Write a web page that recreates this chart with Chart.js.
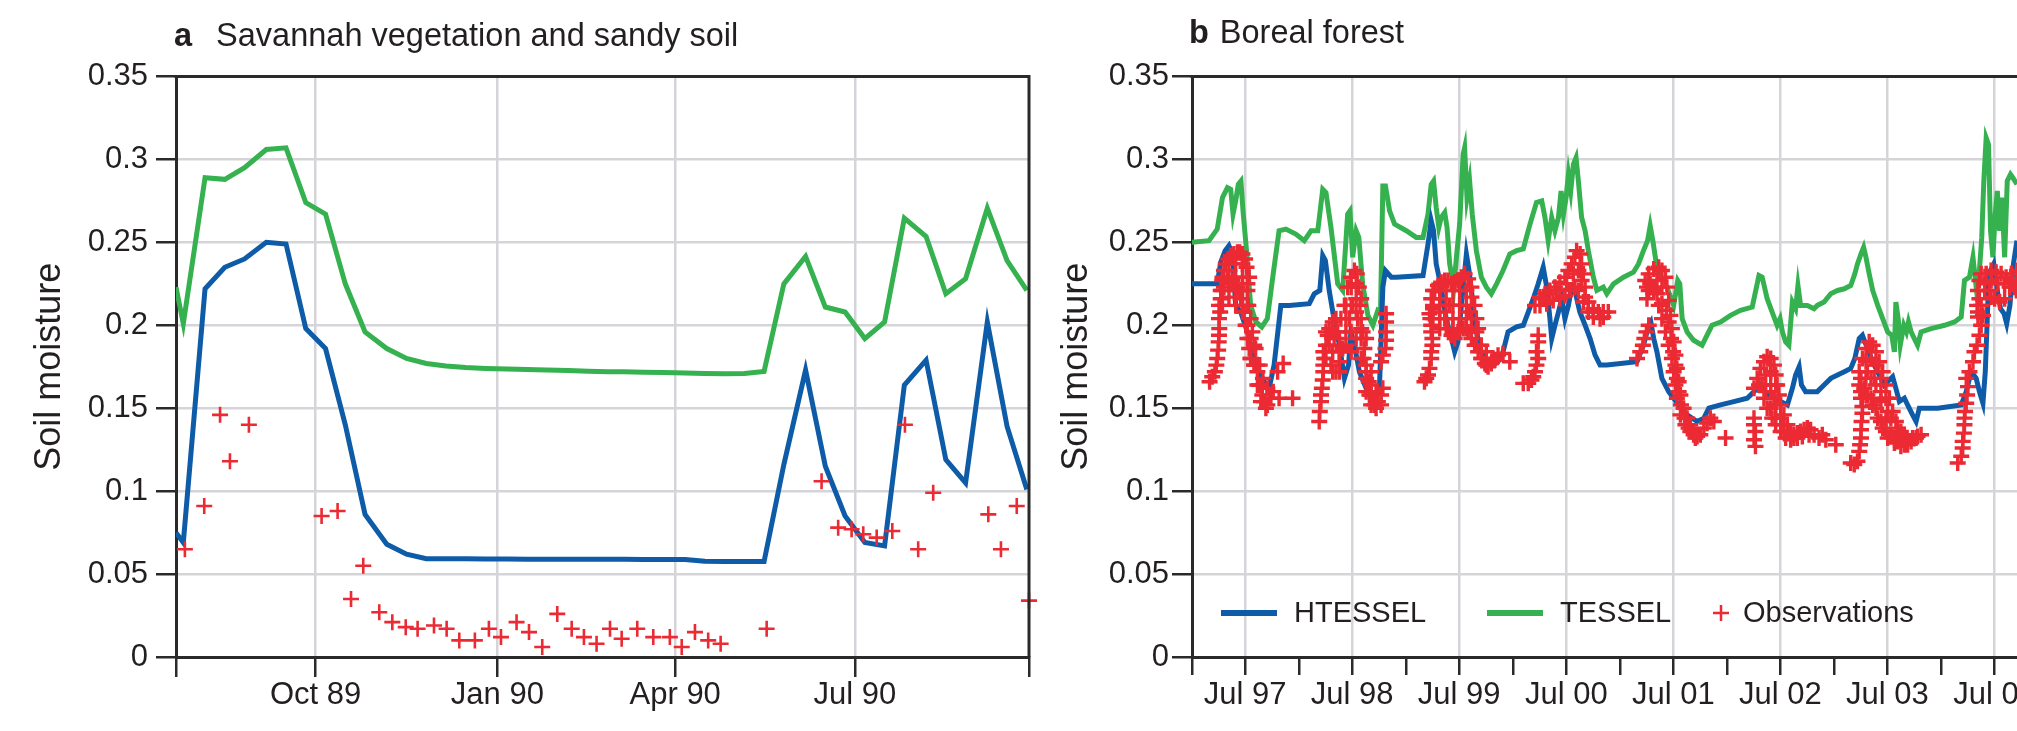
<!DOCTYPE html>
<html>
<head>
<meta charset="utf-8">
<title>Soil moisture: HTESSEL, TESSEL and observations</title>
<script src="https://cdn.jsdelivr.net/npm/chart.js@4.4.1/dist/chart.umd.min.js"></script>
<style>
  html, body { margin: 0; padding: 0; background: #fff; }
  body { width: 2017px; height: 731px; overflow: hidden; position: relative;
         font-family: "Liberation Sans", Arial, sans-serif; color: #231f20; }
  canvas { position: absolute; top: 0; }
  .title { position: absolute; top: 19px; font-size: 32.5px; line-height: 32px; white-space: nowrap; z-index: 2; }
</style>
</head>
<body>
<canvas id="savannah" width="1050" height="731" style="left:0"></canvas>
<canvas id="boreal" width="1020" height="731" style="left:1040px"></canvas>
<div class="title" style="left:174px"><b>a</b><span style="margin-left:24px">Savannah vegetation and sandy soil</span></div>
<div class="title" style="left:1189px;top:16px"><b>b</b><span style="margin-left:11px">Boreal forest</span></div>
<script>
// ---------- panel a : savannah, x = days since 1 Jul 1989 ----------
var savAxis = [21.3, 453.1];
var savTickDates = [[1989, 9, 1], [1990, 0, 1], [1990, 3, 1], [1990, 6, 1]];
var savTickLabels = ['Oct 89', 'Jan 90', 'Apr 90', 'Jul 90'];

// dekadal model output: value at the axis start, then 3rd dekad Jul 89 .. 3rd dekad Sep 90
var savHtessel = [0.075, 0.069, 0.222, 0.235, 0.240, 0.250, 0.249, 0.198, 0.186, 0.140,
  0.086, 0.068, 0.062, 0.0593,
  0.0592, 0.0592, 0.0591, 0.0591, 0.0590, 0.0590, 0.0590, 0.0589, 0.0589, 0.0589, 0.0588, 0.0588, 0.0588,
  0.0577, 0.0576, 0.0576, 0.0576,
  0.116, 0.173, 0.115, 0.085, 0.069, 0.067, 0.164, 0.179, 0.119, 0.105, 0.202, 0.139, 0.101];
var savTessel = [0.223, 0.201, 0.289, 0.288, 0.295, 0.306, 0.307, 0.274, 0.267, 0.225,
  0.196, 0.186, 0.180, 0.177,
  0.1755, 0.1745, 0.174, 0.1737, 0.1733, 0.173, 0.1727, 0.1723, 0.172, 0.172, 0.1717, 0.1715, 0.1712,
  0.171, 0.1708, 0.171, 0.1722,
  0.225, 0.2415, 0.211, 0.208, 0.192, 0.202, 0.2646, 0.2535, 0.219, 0.228, 0.2706, 0.239, 0.221];
var savObs = [[25.8, 0.065], [35.6, 0.091], [43.6, 0.146], [48.6, 0.118], [58.2, 0.140],
  [95.0, 0.085], [103.1, 0.088], [109.9, 0.035], [116.1, 0.055], [124.2, 0.027], [130.8, 0.021],
  [137.6, 0.018], [143.6, 0.017], [151.9, 0.019], [158.3, 0.017], [164.7, 0.010], [172.6, 0.010],
  [179.7, 0.017], [185.8, 0.012], [193.7, 0.021], [200.0, 0.015], [206.7, 0.006], [214.3, 0.026],
  [221.6, 0.017], [227.8, 0.012], [234.2, 0.008], [241.0, 0.017], [246.9, 0.011], [254.8, 0.017],
  [262.9, 0.012], [271.3, 0.012], [277.3, 0.006], [284.0, 0.015], [290.7, 0.010], [297.0, 0.008],
  [320.3, 0.017], [348.1, 0.106], [356.5, 0.078], [363.3, 0.077], [369.2, 0.074], [376.0, 0.072],
  [383.9, 0.076], [390.3, 0.140], [397.0, 0.065], [404.6, 0.099], [432.5, 0.086], [438.9, 0.065],
  [446.9, 0.091], [453.1, 0.034]];

// ---------- panel b : boreal forest, x = days since 1 Jan 1997 ----------
var borealAxis = [0, 2922];
var borealTickLabels = ['Jul 97', 'Jul 98', 'Jul 99', 'Jul 00', 'Jul 01', 'Jul 02', 'Jul 03', 'Jul 04'];

var borealHtessel = [[-8, 0.225], [86, 0.225], [98, 0.238], [113, 0.245], [126, 0.248], [138, 0.243],
  [149, 0.212], [166, 0.208], [189, 0.196], [218, 0.176], [246, 0.166], [263, 0.162], [280, 0.176],
  [303, 0.212], [332, 0.212], [400, 0.213], [417, 0.219], [436, 0.221], [446, 0.242], [455, 0.239],
  [468, 0.221], [486, 0.202], [503, 0.188], [520, 0.168], [534, 0.176], [542, 0.196], [554, 0.188],
  [571, 0.172], [594, 0.162], [617, 0.158], [639, 0.160], [651, 0.223], [660, 0.233], [680, 0.229],
  [697, 0.229], [788, 0.230], [805, 0.249], [816, 0.263], [824, 0.257], [833, 0.237], [850, 0.223],
  [867, 0.204], [885, 0.192], [896, 0.184], [907, 0.190], [924, 0.221], [936, 0.243], [945, 0.233],
  [959, 0.212], [970, 0.196], [987, 0.184], [1004, 0.178], [1027, 0.176], [1044, 0.178], [1061, 0.184],
  [1078, 0.196], [1107, 0.199], [1130, 0.200], [1147, 0.208], [1164, 0.216], [1181, 0.225], [1198, 0.235],
  [1210, 0.223], [1221, 0.204], [1227, 0.192], [1238, 0.200], [1250, 0.208], [1261, 0.216], [1272, 0.204],
  [1284, 0.212], [1295, 0.223], [1306, 0.221], [1323, 0.208], [1341, 0.200], [1358, 0.192], [1375, 0.182],
  [1392, 0.176], [1415, 0.176], [1518, 0.178], [1540, 0.188], [1558, 0.200], [1565, 0.202], [1575, 0.192],
  [1586, 0.184], [1603, 0.168], [1626, 0.160], [1643, 0.156], [1660, 0.152], [1689, 0.146], [1723, 0.142],
  [1746, 0.144], [1763, 0.150], [1803, 0.152], [1848, 0.154], [1894, 0.156], [1917, 0.160], [1939, 0.164],
  [1962, 0.158], [1985, 0.156], [2008, 0.154], [2031, 0.152], [2048, 0.162], [2059, 0.170], [2071, 0.175],
  [2079, 0.164], [2093, 0.160], [2122, 0.160], [2133, 0.160], [2156, 0.164], [2179, 0.168], [2202, 0.170],
  [2225, 0.172], [2247, 0.174], [2261, 0.180], [2276, 0.192], [2287, 0.194], [2304, 0.186], [2327, 0.176],
  [2361, 0.164], [2390, 0.169], [2401, 0.162], [2413, 0.154], [2430, 0.156], [2441, 0.152], [2458, 0.146],
  [2470, 0.142], [2481, 0.150], [2544, 0.150], [2624, 0.152], [2641, 0.160], [2658, 0.172], [2675, 0.168],
  [2686, 0.160], [2698, 0.153], [2706, 0.172], [2712, 0.200], [2717, 0.225], [2724, 0.233], [2735, 0.237],
  [2747, 0.221], [2758, 0.210], [2770, 0.207], [2779, 0.201], [2790, 0.212], [2802, 0.237], [2814, 0.251]];

var borealTessel = [[-8, 0.250], [58, 0.251], [86, 0.258], [104, 0.277], [121, 0.283], [132, 0.282],
  [140, 0.267], [149, 0.275], [158, 0.285], [167, 0.287], [174, 0.269], [186, 0.245], [200, 0.212],
  [218, 0.202], [238, 0.199], [257, 0.204], [277, 0.231], [297, 0.257], [320, 0.258], [354, 0.255],
  [383, 0.251], [406, 0.257], [429, 0.257], [446, 0.282], [457, 0.280], [474, 0.259], [497, 0.225],
  [514, 0.221], [531, 0.267], [539, 0.269], [548, 0.241], [560, 0.257], [569, 0.253], [582, 0.225],
  [600, 0.206], [617, 0.200], [634, 0.209], [643, 0.208], [651, 0.284], [660, 0.284], [674, 0.269],
  [691, 0.261], [731, 0.257], [765, 0.253], [788, 0.253], [805, 0.267], [816, 0.285], [824, 0.287],
  [833, 0.271], [842, 0.259], [850, 0.265], [862, 0.268], [870, 0.259], [879, 0.237], [893, 0.223],
  [902, 0.241], [913, 0.261], [925, 0.303], [930, 0.307], [938, 0.277], [947, 0.287], [956, 0.267],
  [970, 0.245], [987, 0.229], [1004, 0.223], [1021, 0.219], [1039, 0.225], [1061, 0.233], [1084, 0.243],
  [1107, 0.245], [1130, 0.246], [1153, 0.261], [1175, 0.274], [1193, 0.275], [1204, 0.265], [1215, 0.251],
  [1227, 0.265], [1238, 0.257], [1250, 0.265], [1259, 0.281], [1267, 0.267], [1276, 0.277], [1284, 0.291],
  [1292, 0.281], [1301, 0.297], [1310, 0.301], [1318, 0.287], [1329, 0.265], [1341, 0.257], [1352, 0.245],
  [1369, 0.229], [1381, 0.221], [1403, 0.223], [1415, 0.219], [1438, 0.225], [1472, 0.229], [1506, 0.232],
  [1523, 0.237], [1540, 0.245], [1554, 0.251], [1563, 0.260], [1572, 0.251], [1584, 0.237], [1597, 0.229],
  [1620, 0.223], [1643, 0.212], [1657, 0.227], [1664, 0.225], [1672, 0.204], [1689, 0.196], [1711, 0.191],
  [1740, 0.188], [1757, 0.194], [1774, 0.200], [1803, 0.202], [1837, 0.206], [1871, 0.209], [1911, 0.211],
  [1934, 0.230], [1945, 0.229], [1962, 0.216], [1979, 0.208], [1996, 0.200], [2006, 0.204], [2014, 0.196],
  [2025, 0.190], [2036, 0.188], [2048, 0.214], [2059, 0.210], [2067, 0.224], [2076, 0.212], [2099, 0.212],
  [2122, 0.210], [2133, 0.212], [2156, 0.214], [2179, 0.219], [2202, 0.221], [2225, 0.222], [2247, 0.224],
  [2261, 0.231], [2270, 0.237], [2282, 0.243], [2291, 0.247], [2299, 0.241], [2310, 0.231], [2322, 0.221],
  [2339, 0.212], [2356, 0.204], [2373, 0.196], [2387, 0.194], [2396, 0.184], [2401, 0.214], [2409, 0.204],
  [2416, 0.188], [2428, 0.200], [2437, 0.196], [2444, 0.202], [2453, 0.196], [2464, 0.192], [2475, 0.188],
  [2487, 0.196], [2521, 0.198], [2567, 0.200], [2601, 0.202], [2624, 0.205], [2635, 0.227], [2652, 0.229],
  [2664, 0.241], [2675, 0.223], [2686, 0.233], [2694, 0.253], [2701, 0.287], [2709, 0.313], [2717, 0.309],
  [2724, 0.257], [2732, 0.241], [2740, 0.267], [2747, 0.281], [2755, 0.257], [2763, 0.277], [2772, 0.241],
  [2781, 0.287], [2792, 0.291], [2800, 0.289], [2814, 0.285]];

var borealObs = [
  // 1997
  [60, 0.166], [69, 0.169], [78, 0.172], [83, 0.176], [86, 0.180], [89, 0.185], [91, 0.190], [92, 0.194],
  [93, 0.198], [92, 0.204], [96, 0.208], [92, 0.212], [98, 0.221], [103, 0.227], [109, 0.233], [115, 0.237],
  [124, 0.240], [132, 0.242], [143, 0.243], [155, 0.244], [163, 0.244], [172, 0.243], [181, 0.240], [186, 0.235],
  [98, 0.216], [109, 0.223], [121, 0.229], [138, 0.227], [155, 0.223], [160, 0.221], [166, 0.216], [172, 0.212],
  [178, 0.208], [195, 0.229], [189, 0.221], [192, 0.212], [183, 0.200], [189, 0.192], [195, 0.186], [200, 0.180],
  [212, 0.176], [223, 0.172], [229, 0.164], [240, 0.158], [246, 0.154], [252, 0.150], [257, 0.152], [269, 0.156],
  [277, 0.160], [206, 0.196], [217, 0.186], [231, 0.176], [242, 0.168], [257, 0.162], [292, 0.172], [311, 0.177],
  [297, 0.156], [343, 0.156],
  [104, 0.229], [104, 0.221], [104, 0.212], [126, 0.233], [126, 0.225], [126, 0.217], [149, 0.237], [149, 0.229],
  [149, 0.221], [149, 0.212], [172, 0.237], [172, 0.229], [172, 0.221], [172, 0.208], [189, 0.225], [189, 0.212],
  [189, 0.200], [200, 0.204], [200, 0.192], [200, 0.180], [212, 0.188], [212, 0.176], [223, 0.176], [223, 0.164],
  [235, 0.164], [235, 0.154],
  // 1998
  [434, 0.142], [436, 0.148], [440, 0.154], [440, 0.158], [443, 0.162], [446, 0.167], [448, 0.172], [448, 0.176],
  [451, 0.180], [448, 0.184], [457, 0.188], [463, 0.194], [468, 0.198], [480, 0.202], [491, 0.204], [508, 0.204],
  [520, 0.212], [531, 0.223], [542, 0.229], [554, 0.233], [562, 0.231], [569, 0.223], [573, 0.212], [577, 0.204],
  [582, 0.196], [588, 0.186], [594, 0.176], [603, 0.166], [611, 0.158], [622, 0.152], [634, 0.154], [645, 0.158],
  [651, 0.162], [457, 0.180], [474, 0.176], [491, 0.172], [502, 0.178], [514, 0.186], [525, 0.196], [537, 0.204],
  [548, 0.212], [560, 0.216], [565, 0.204], [577, 0.192], [585, 0.180], [594, 0.168], [605, 0.158], [468, 0.188],
  [485, 0.192], [497, 0.196], [662, 0.207], [662, 0.202], [662, 0.196], [662, 0.191], [660, 0.186], [651, 0.182],
  [645, 0.178],
  [457, 0.196], [480, 0.196], [480, 0.184], [480, 0.172], [503, 0.192], [503, 0.184], [503, 0.172], [525, 0.212],
  [525, 0.204], [525, 0.188], [543, 0.223], [543, 0.212], [543, 0.196], [543, 0.184], [560, 0.225], [560, 0.208],
  [560, 0.192], [577, 0.216], [577, 0.198], [577, 0.180], [594, 0.192], [594, 0.172], [594, 0.160], [611, 0.172],
  [611, 0.164], [611, 0.152], [628, 0.160], [628, 0.150], [645, 0.152],
  // 1999
  [793, 0.166], [799, 0.168], [805, 0.170], [810, 0.174], [816, 0.180], [816, 0.184], [820, 0.188], [820, 0.192],
  [816, 0.196], [816, 0.200], [813, 0.204], [810, 0.207], [816, 0.216], [828, 0.221], [839, 0.224], [850, 0.226],
  [862, 0.227], [873, 0.227], [885, 0.225], [896, 0.226], [907, 0.227], [919, 0.229], [930, 0.231], [942, 0.228],
  [953, 0.223], [964, 0.212], [970, 0.204], [976, 0.198], [822, 0.210], [845, 0.208], [862, 0.204], [873, 0.198],
  [885, 0.194], [896, 0.192], [907, 0.196], [925, 0.198], [942, 0.196], [953, 0.192], [964, 0.188], [976, 0.184],
  [987, 0.180], [999, 0.177], [1010, 0.175], [1021, 0.177], [1033, 0.179], [1044, 0.182], [1061, 0.183],
  [1084, 0.178], [845, 0.216], [879, 0.212], [913, 0.212], [947, 0.208],
  [822, 0.221], [822, 0.212], [822, 0.204], [845, 0.221], [845, 0.212], [845, 0.204], [845, 0.198], [867, 0.221],
  [867, 0.212], [867, 0.204], [867, 0.198], [890, 0.221], [890, 0.212], [890, 0.204], [890, 0.198], [913, 0.221],
  [913, 0.212], [913, 0.204], [913, 0.198], [936, 0.221], [936, 0.212], [936, 0.204], [936, 0.198], [953, 0.217],
  [953, 0.204], [953, 0.196], [970, 0.196], [970, 0.188], [987, 0.188], [987, 0.180], [1004, 0.184], [1004, 0.176],
  [1027, 0.180],
  // 2000
  [1130, 0.165], [1147, 0.165], [1158, 0.167], [1164, 0.169], [1170, 0.172], [1175, 0.176], [1181, 0.180],
  [1175, 0.184], [1181, 0.190], [1181, 0.194], [1170, 0.212], [1187, 0.217], [1204, 0.219], [1221, 0.221],
  [1238, 0.223], [1255, 0.226], [1272, 0.229], [1284, 0.233], [1295, 0.237], [1306, 0.241], [1312, 0.245],
  [1324, 0.243], [1329, 0.237], [1335, 0.231], [1341, 0.223], [1352, 0.214], [1369, 0.210], [1386, 0.208],
  [1403, 0.208], [1420, 0.208], [1187, 0.212], [1210, 0.213], [1232, 0.215], [1255, 0.216], [1272, 0.218],
  [1289, 0.221], [1306, 0.223], [1318, 0.221], [1335, 0.214], [1352, 0.208], [1369, 0.205], [1392, 0.204],
  [1198, 0.216], [1244, 0.221], [1278, 0.225], [1301, 0.231], [1318, 0.233], [1329, 0.227], [1341, 0.217],
  [1369, 0.208], [1403, 0.205],
  // 2001
  [1518, 0.180], [1529, 0.184], [1538, 0.188], [1543, 0.192], [1550, 0.196], [1558, 0.200], [1552, 0.216],
  [1558, 0.221], [1546, 0.227], [1558, 0.231], [1575, 0.234], [1592, 0.235], [1603, 0.233], [1615, 0.229],
  [1620, 0.223], [1626, 0.215], [1632, 0.206], [1637, 0.198], [1643, 0.190], [1649, 0.182], [1654, 0.174],
  [1660, 0.166], [1666, 0.158], [1677, 0.150], [1689, 0.144], [1700, 0.140], [1711, 0.136], [1723, 0.133],
  [1734, 0.134], [1746, 0.138], [1757, 0.141], [1768, 0.144], [1780, 0.142], [1552, 0.223], [1575, 0.221],
  [1592, 0.212], [1603, 0.204], [1615, 0.196], [1626, 0.188], [1637, 0.180], [1643, 0.172], [1649, 0.164],
  [1654, 0.156], [1666, 0.146], [1683, 0.140], [1700, 0.136], [1717, 0.132], [1820, 0.132],
  [1563, 0.225], [1586, 0.227], [1586, 0.219], [1603, 0.223], [1603, 0.213], [1618, 0.209], [1626, 0.202],
  [1634, 0.192], [1641, 0.184], [1649, 0.176], [1654, 0.168], [1660, 0.160], [1668, 0.152], [1680, 0.144],
  [1694, 0.138], [1711, 0.134],
  // 2002
  [1917, 0.144], [1917, 0.140], [1922, 0.136], [1917, 0.131], [1922, 0.127], [1917, 0.162], [1928, 0.168],
  [1939, 0.174], [1951, 0.178], [1962, 0.181], [1974, 0.180], [1985, 0.176], [1991, 0.170], [1996, 0.164],
  [2002, 0.158], [2008, 0.152], [2019, 0.146], [2031, 0.140], [2042, 0.136], [2053, 0.134], [2065, 0.135],
  [2076, 0.136], [2088, 0.137], [2099, 0.138], [2110, 0.137], [2139, 0.132], [1951, 0.156], [1962, 0.150],
  [1979, 0.144], [1991, 0.140], [2008, 0.136], [2025, 0.132], [2042, 0.131], [2065, 0.132], [1945, 0.164],
  [1974, 0.164], [1985, 0.156], [2150, 0.134], [2162, 0.131], [2196, 0.128],
  [1934, 0.164], [1957, 0.170], [1957, 0.160], [1974, 0.172], [1974, 0.160], [1974, 0.150], [1991, 0.164],
  [1991, 0.152], [1991, 0.144], [2008, 0.144], [2019, 0.140], [2019, 0.136], [2036, 0.135], [2053, 0.132],
  [2082, 0.133], [2105, 0.134], [2122, 0.134],
  // 2003
  [2247, 0.117], [2259, 0.116], [2270, 0.118], [2276, 0.124], [2279, 0.128], [2282, 0.132], [2282, 0.137],
  [2284, 0.142], [2287, 0.147], [2287, 0.151], [2282, 0.156], [2276, 0.172], [2287, 0.180], [2299, 0.186],
  [2310, 0.190], [2322, 0.188], [2333, 0.184], [2344, 0.178], [2356, 0.172], [2367, 0.164], [2379, 0.156],
  [2390, 0.148], [2401, 0.142], [2418, 0.136], [2436, 0.132], [2453, 0.130], [2470, 0.132], [2487, 0.134],
  [2276, 0.164], [2293, 0.162], [2304, 0.158], [2322, 0.152], [2339, 0.144], [2356, 0.138], [2373, 0.132],
  [2396, 0.129], [2418, 0.127], [2441, 0.128], [2304, 0.172], [2327, 0.168], [2350, 0.160], [2373, 0.148],
  [2282, 0.168], [2282, 0.160], [2299, 0.178], [2299, 0.168], [2299, 0.158], [2316, 0.180], [2316, 0.168],
  [2316, 0.156], [2333, 0.176], [2333, 0.164], [2333, 0.150], [2350, 0.168], [2350, 0.154], [2350, 0.142],
  [2367, 0.156], [2367, 0.144], [2367, 0.136], [2384, 0.144], [2384, 0.134], [2407, 0.138], [2407, 0.130],
  [2430, 0.134], [2430, 0.128], [2458, 0.132], [2475, 0.133],
  // 2004
  [2612, 0.117], [2624, 0.121], [2629, 0.126], [2629, 0.130], [2633, 0.135], [2635, 0.140], [2635, 0.144],
  [2637, 0.148], [2641, 0.153], [2644, 0.158], [2647, 0.163], [2641, 0.168], [2652, 0.172], [2664, 0.178],
  [2669, 0.184], [2678, 0.188], [2686, 0.194], [2692, 0.200], [2698, 0.206], [2692, 0.212], [2686, 0.216],
  [2681, 0.221], [2686, 0.227], [2692, 0.231], [2709, 0.231], [2726, 0.233], [2743, 0.232], [2760, 0.231],
  [2777, 0.229], [2795, 0.231], [2814, 0.233], [2704, 0.221], [2721, 0.221], [2738, 0.216], [2755, 0.214],
  [2772, 0.216], [2789, 0.223], [2806, 0.223], [2678, 0.212], [2681, 0.208], [2681, 0.205],
  [2704, 0.225], [2726, 0.227], [2726, 0.217], [2749, 0.225], [2772, 0.225], [2795, 0.227], [2812, 0.227],
  [2812, 0.221]];

// ---------- look ----------
var BLUE = '#0e5ca8', GREEN = '#35b24f', RED = '#ec2a33';
var GRID = '#d5d5d9', AXIS = '#2a2a2a', TEXT = '#231f20';
var SANS = '"Liberation Sans", Arial, sans-serif';

function fontAvailable(name) {
  var c = document.createElement('canvas').getContext('2d');
  var probe = 'Oct 89 HTESSEL Observations';
  c.font = '40px monospace';
  var w0 = c.measureText(probe).width;
  c.font = '40px "' + name + '", monospace';
  return c.measureText(probe).width !== w0;
}
var NARROW = fontAvailable('Liberation Sans Narrow');
var xTickFont = NARROW ? { family: '"Liberation Sans Narrow", ' + SANS, size: 37, lineHeight: 1 }
                       : { family: SANS, size: 31, lineHeight: 1 };
var legendFont = NARROW ? '33px "Liberation Sans Narrow", ' + SANS : '29px ' + SANS;

Chart.defaults.font.family = SANS;
Chart.defaults.color = TEXT;

function dayOf(base, y, m, d) {
  return (Date.UTC(y, m, d) - base) / 864e5;
}
function pairs(list) {
  return list.map(function (p) { return { x: p[0], y: p[1] }; });
}

// frame: top and right edges of the plot box
var framePlugin = {
  id: 'frame',
  afterDraw: function (chart) {
    var a = chart.chartArea, ctx = chart.ctx;
    ctx.save();
    ctx.strokeStyle = AXIS;
    ctx.lineWidth = 3;
    ctx.beginPath();
    ctx.moveTo(a.left - 1.5, a.top);
    ctx.lineTo(a.right, a.top);
    ctx.lineTo(a.right, a.bottom);
    ctx.stroke();
    ctx.restore();
  }
};

// legend drawn inside the plot box
var legendPlugin = {
  id: 'boxLegend',
  afterDatasetsDraw: function (chart, args, opts) {
    if (!opts.items) return;
    var a = chart.chartArea, ctx = chart.ctx;
    var y = a.top + opts.y;
    ctx.save();
    ctx.font = legendFont;
    ctx.textBaseline = 'middle';
    opts.items.forEach(function (it) {
      var ds = chart.data.datasets[it.dataset];
      ctx.strokeStyle = ds.borderColor;
      if (ds.showLine === false) {
        ctx.lineWidth = 2.5;
        ctx.beginPath();
        ctx.moveTo(a.left + it.mark - 8, y); ctx.lineTo(a.left + it.mark + 8, y);
        ctx.moveTo(a.left + it.mark, y - 8); ctx.lineTo(a.left + it.mark, y + 8);
        ctx.stroke();
      } else {
        ctx.lineWidth = 6;
        ctx.beginPath();
        ctx.moveTo(a.left + it.mark, y); ctx.lineTo(a.left + it.mark + 56, y);
        ctx.stroke();
      }
      ctx.fillStyle = TEXT;
      ctx.fillText(ds.label, a.left + it.text, y + 1);
    });
    ctx.restore();
  }
};

function makeChart(id, o) {
  var tickMap = {};
  o.ticks.forEach(function (t) { tickMap[t.value] = t.label; });
  var labelPad = 695 - 657 - o.tickLen - xTickFont.size / 2;

  return new Chart(document.getElementById(id), {
    type: 'line',
    data: {
      datasets: [
        { label: 'HTESSEL', data: o.htessel, borderColor: BLUE, borderWidth: 5,
          pointRadius: 0, tension: 0, order: 1 },
        { label: 'TESSEL', data: o.tessel, borderColor: GREEN, borderWidth: 5,
          pointRadius: 0, tension: 0, order: 2 },
        { label: 'Observations', data: o.obs, showLine: false, borderColor: RED,
          pointStyle: 'cross', pointRadius: 8, pointBorderWidth: o.obsWidth, pointBorderColor: RED,
          clip: false, order: 0 }
      ]
    },
    options: {
      responsive: false,
      animation: false,
      events: [],
      layout: { padding: { left: o.padLeft, top: 76.5, right: o.padRight, bottom: 0 } },
      scales: {
        x: {
          type: 'linear',
          min: o.min,
          max: o.max,
          afterBuildTicks: function (scale) {
            scale.ticks = o.ticks.map(function (t) { return { value: t.value }; });
          },
          afterFit: function (scale) { scale.height = 731 - 657; },
          ticks: {
            autoSkip: false,
            maxRotation: 0,
            padding: labelPad,
            font: xTickFont,
            color: TEXT,
            callback: function (v) { return tickMap[v] || ''; }
          },
          grid: {
            color: function (c) { return c.tick && tickMap[c.tick.value] ? GRID : 'rgba(0,0,0,0)'; },
            lineWidth: 2.5,
            tickColor: AXIS,
            tickWidth: 2.5,
            tickLength: o.tickLen
          },
          border: { display: true, color: AXIS, width: 3 }
        },
        y: {
          min: 0,
          max: 0.35,
          afterFit: function (scale) { scale.width = o.yWidth; },
          ticks: {
            stepSize: 0.05,
            padding: o.yPad,
            font: { size: 31 },
            color: TEXT,
            callback: function (v) { return String(Number(v.toFixed(2))); }
          },
          grid: { color: GRID, lineWidth: 2.5, tickColor: AXIS, tickWidth: 2.5, tickLength: 20 },
          border: { display: true, color: AXIS, width: 3 },
          title: {
            display: true,
            text: 'Soil moisture',
            color: TEXT,
            font: { size: 36 },
            padding: { top: o.titlePad, bottom: 0 }
          }
        }
      },
      plugins: {
        legend: { display: false },
        tooltip: { enabled: false },
        boxLegend: o.legend || {}
      }
    },
    plugins: [framePlugin, legendPlugin]
  });
}

// ---- panel a ----
var savBase = Date.UTC(1989, 6, 1);
var savDays = [savAxis[0]];
for (var m = 6; m <= 20; m++) {
  [6, 16, 26].forEach(function (d) {
    var t = dayOf(savBase, 1989, m, d);
    if (t >= 25) savDays.push(t);
  });
}
var savTicks = [{ value: savAxis[0], label: '' }];
savTickDates.forEach(function (t, i) {
  savTicks.push({ value: dayOf(savBase, t[0], t[1], t[2]), label: savTickLabels[i] });
});
savTicks.push({ value: savAxis[1], label: '' });

makeChart('savannah', {
  min: savAxis[0], max: savAxis[1],
  ticks: savTicks,
  tickLen: 20,
  padLeft: 20, padRight: 21, yWidth: 156, yPad: 8, titlePad: 8,
  obsWidth: 2.6,
  htessel: savHtessel.map(function (v, i) { return { x: savDays[i], y: v }; }),
  tessel: savTessel.map(function (v, i) { return { x: savDays[i], y: v }; }),
  obs: pairs(savObs)
});

// ---- panel b ----
var borealBase = Date.UTC(1997, 0, 1);
var borealTicks = [];
for (var yr = 1997; yr <= 2005; yr++) {
  borealTicks.push({ value: dayOf(borealBase, yr, 0, 1), label: '' });
  if (yr - 1997 < borealTickLabels.length) {
    borealTicks.push({ value: dayOf(borealBase, yr, 6, 1), label: borealTickLabels[yr - 1997] });
  }
}

makeChart('boreal', {
  min: borealAxis[0], max: borealAxis[1],
  ticks: borealTicks,
  tickLen: 18,
  padLeft: 10, padRight: 11.4, yWidth: 142, yPad: 3, titlePad: 5.4,
  obsWidth: 3.4,
  htessel: pairs(borealHtessel),
  tessel: pairs(borealTessel),
  obs: pairs(borealObs),
  legend: {
    y: 536.5,
    items: [
      { dataset: 0, mark: 29, text: 102 },
      { dataset: 1, mark: 295, text: 368 },
      { dataset: 2, mark: 529, text: 551 }
    ]
  }
});
</script>
</body>
</html>
